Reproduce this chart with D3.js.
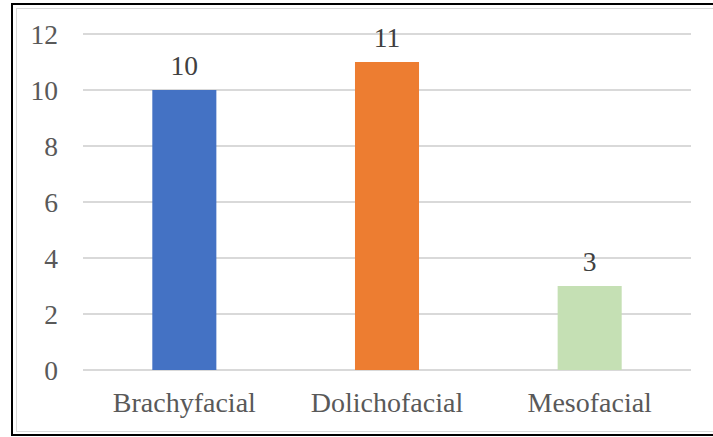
<!DOCTYPE html>
<html>
<head>
<meta charset="utf-8">
<script src="https://cdn.jsdelivr.net/npm/d3@7"></script>
<style>
  html, body { margin: 0; padding: 0; background: #fff; }
  svg { display: block; }
</style>
</head>
<body>
<svg id="chart" width="713" height="437"></svg>
<script>
const categories = ["Brachyfacial", "Dolichofacial", "Mesofacial"];
const values = [10, 11, 3];
const barColors = ["#4472C4", "#ED7D31", "#C5E0B4"];
const yTicks = [0, 2, 4, 6, 8, 10, 12];

const svg = d3.select("#chart");
const W = 713, H = 437;
const plot = { left: 83, right: 691, top: 34, bottom: 370 };
const font = "'Liberation Serif', 'Times New Roman', serif";

// borders
svg.append("rect").attr("x", 12).attr("y", 4).attr("width", W + 10).attr("height", 431)
  .attr("fill", "none").attr("stroke", "#000").attr("stroke-width", 2);
svg.append("rect").attr("x", 16.5).attr("y", 8.5).attr("width", W + 10).attr("height", 423)
  .attr("fill", "none").attr("stroke", "#d9d9d9").attr("stroke-width", 1);

const x = d3.scaleBand().domain(categories).range([plot.left, plot.right]).paddingInner(0.684).paddingOuter(0.342);
const y = d3.scaleLinear().domain([0, 12]).range([plot.bottom, plot.top]);

// gridlines
svg.append("g").selectAll("line").data(yTicks).join("line")
  .attr("x1", plot.left).attr("x2", plot.right)
  .attr("y1", d => y(d)).attr("y2", d => y(d))
  .attr("stroke", "#d9d9d9").attr("stroke-width", 2);

// y axis labels
const yAxis = d3.axisLeft(y).tickValues(yTicks).tickSize(0).tickPadding(0);
const gy = svg.append("g").attr("transform", `translate(58,0)`).call(yAxis);
gy.select(".domain").remove();
gy.selectAll("text").attr("font-family", font).attr("font-size", 27.5).attr("fill", "#595959").attr("dy", "0.36em");

// bars
svg.append("g").selectAll("rect").data(values).join("rect")
  .attr("x", (d, i) => x(categories[i]))
  .attr("width", x.bandwidth())
  .attr("y", d => y(d))
  .attr("height", d => y(0) - y(d))
  .attr("fill", (d, i) => barColors[i]);

// value labels
svg.append("g").selectAll("text").data(values).join("text")
  .attr("x", (d, i) => x(categories[i]) + x.bandwidth() / 2)
  .attr("y", d => y(d) - 15.5)
  .attr("text-anchor", "middle")
  .attr("font-family", font).attr("font-size", 27.5).attr("fill", "#404040")
  .text(d => d);

// x axis labels
const xAxis = d3.axisBottom(x).tickSize(0).tickPadding(0);
const gx = svg.append("g").attr("transform", `translate(0,${plot.bottom})`).call(xAxis);
gx.select(".domain").remove();
gx.selectAll("text").attr("font-family", font).attr("font-size", 28).attr("fill", "#595959")
  .attr("dy", null).attr("y", 42);
</script>
</body>
</html>
